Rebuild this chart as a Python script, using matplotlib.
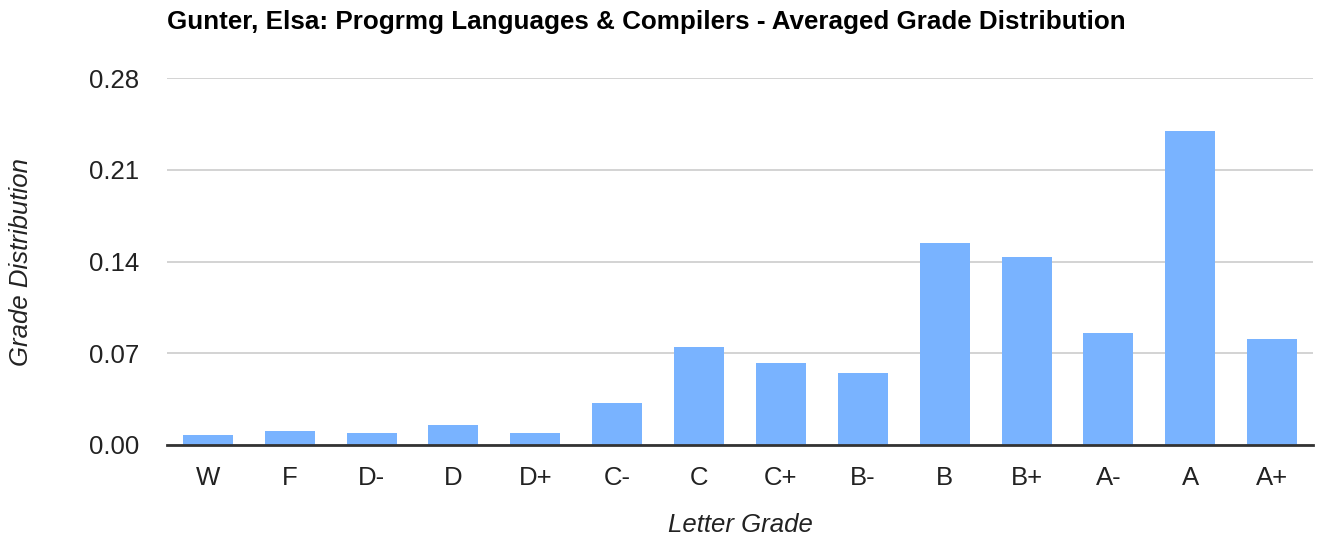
import matplotlib
matplotlib.use("Agg")
import matplotlib.pyplot as plt
import numpy as np

plt.rcParams['font.family'] = ['Liberation Sans', 'DejaVu Sans']

grades = ['W', 'F', 'D-', 'D', 'D+', 'C-', 'C', 'C+', 'B-', 'B', 'B+', 'A-', 'A', 'A+']
distribution = [0.0076, 0.0107, 0.0092, 0.0153, 0.0092, 0.0320, 0.0750, 0.0628,
                0.0551, 0.1542, 0.1436, 0.0856, 0.2396, 0.0810]
yticks = [0.00, 0.07, 0.14, 0.21, 0.28]

fig = plt.figure(figsize=(13.27, 5.42), dpi=100)
ax = fig.add_axes([0.1258, 0.179, 0.8637, 0.677])

x = np.arange(len(grades))
ax.bar(x, distribution, width=0.61, color='#79b3ff', zorder=2)

ax.set_xlim(-0.5, len(grades) - 0.5)
ax.set_ylim(0, 0.28)
ax.set_yticks(yticks)
ax.set_yticklabels(['%.2f' % v for v in yticks])
ax.set_xticks(x)
ax.set_xticklabels(grades)
ax.yaxis.grid(True, color='#cccccc', linewidth=1.2, zorder=0)
ax.set_axisbelow(True)

for side in ['top', 'right', 'left']:
    ax.spines[side].set_visible(False)
ax.spines['bottom'].set_color('#333333')
ax.spines['bottom'].set_linewidth(2)
ax.spines['bottom'].set_zorder(3)
ax.tick_params(axis='both', length=0, labelsize=18.5, colors='#222222')
ax.tick_params(axis='x', pad=15)
ax.tick_params(axis='y', pad=20)

ax.set_xlabel('Letter Grade', fontsize=18.5, style='italic', color='#222222', labelpad=17)
ax.set_ylabel('Grade Distribution', fontsize=18.5, style='italic', color='#222222', labelpad=40)
fig.text(167 / 1327, 1 - 22 / 542, 'Gunter, Elsa: Progrmg Languages & Compilers - Averaged Grade Distribution',
         fontsize=18.7, fontweight='bold', color='#000000', va='center', ha='left')

fig.savefig('out.png', dpi=100)
